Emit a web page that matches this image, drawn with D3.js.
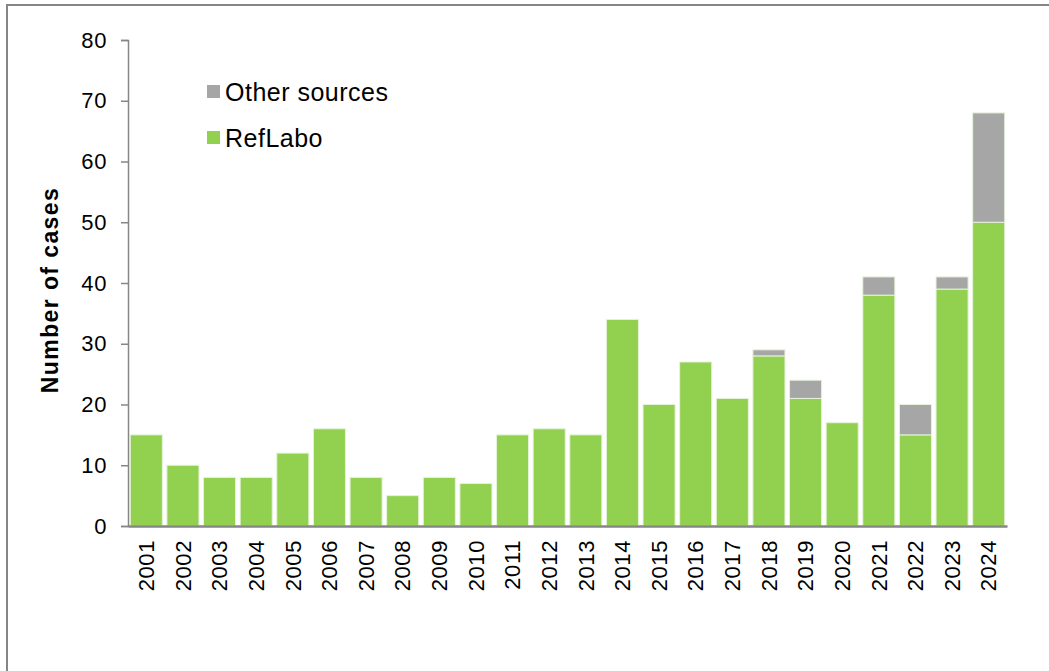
<!DOCTYPE html>
<html>
<head>
<meta charset="utf-8">
<script src="https://cdn.jsdelivr.net/npm/d3@7"></script>
<style>
  body { margin: 0; background: #fff; }
  svg { display: block; font-family: "Liberation Sans", Arial, sans-serif; }
</style>
</head>
<body>
<div id="chart"></div>
<script>
const years = ["2001", "2002", "2003", "2004", "2005", "2006", "2007", "2008", "2009", "2010",
  "2011", "2012", "2013", "2014", "2015", "2016", "2017", "2018", "2019", "2020",
  "2021", "2022", "2023", "2024"];
const refLabo = [15, 10, 8, 8, 12, 16, 8, 5, 8, 7, 15, 16, 15, 34, 20, 27, 21, 28, 21, 17, 38, 15, 39, 50];
const otherSources = [0, 0, 0, 0, 0, 0, 0, 0, 0, 0, 0, 0, 0, 0, 0, 0, 0, 1, 3, 0, 3, 5, 2, 18];
const seriesNames = ["RefLabo", "Other sources"];
const yTicks = [0, 10, 20, 30, 40, 50, 60, 70, 80];

const width = 1049;
const height = 671;
const margin = {top: 40, right: 42, bottom: 145, left: 128};
const colors = {"RefLabo": "#92d050", "Other sources": "#a6a6a6"};

const svg = d3.select("#chart")
  .append("svg")
  .attr("width", width)
  .attr("height", height);

// outer frame (runs off the right and bottom edges)
svg.append("rect")
  .attr("x", 7)
  .attr("y", 5)
  .attr("width", width + 20)
  .attr("height", height + 20)
  .attr("fill", "none")
  .attr("stroke", "#868686")
  .attr("stroke-width", 2);

const rows = years.map((yr, i) => ({year: yr, "RefLabo": refLabo[i], "Other sources": otherSources[i]}));
const stacked = d3.stack().keys(seriesNames)(rows);

const x = d3.scaleBand()
  .domain(years)
  .range([margin.left, width - margin.right])
  .paddingInner(0.125)
  .paddingOuter(0.0625);

const y = d3.scaleLinear()
  .domain([0, 80])
  .range([height - margin.bottom, margin.top]);

svg.append("g")
  .selectAll("g")
  .data(stacked)
  .join("g")
  .attr("fill", d => colors[d.key])
  .selectAll("rect")
  .data(d => d.filter(p => p[1] > p[0]))
  .join("rect")
  .attr("x", d => x(d.data.year))
  .attr("y", d => y(d[1]))
  .attr("width", x.bandwidth())
  .attr("height", d => y(d[0]) - y(d[1]))
  .attr("stroke", "#e6f2da")
  .attr("stroke-width", 1);

const yAxis = g => g
  .attr("transform", `translate(${margin.left},0)`)
  .call(d3.axisLeft(y).tickValues(yTicks).tickSize(7).tickPadding(14).tickSizeOuter(7))
  .call(g => g.selectAll("path, line").attr("stroke", "#868686").attr("stroke-width", 1.5))
  .call(g => g.selectAll("text").attr("font-size", 22).attr("fill", "#000")
    .attr("letter-spacing", 0.6)
    .attr("font-family", "'Liberation Sans', Arial, sans-serif"));

const xAxis = g => g
  .attr("transform", `translate(0,${height - margin.bottom})`)
  .call(d3.axisBottom(x).tickSize(0).tickSizeOuter(0).tickPadding(0))
  .call(g => g.select(".domain").attr("stroke", "#868686").attr("stroke-width", 2.5))
  .call(g => g.selectAll("text")
    .attr("font-size", 22)
    .attr("letter-spacing", 0.6)
    .attr("fill", "#000")
    .attr("font-family", "'Liberation Sans', Arial, sans-serif")
    .attr("transform", "rotate(-90)")
    .attr("text-anchor", "end")
    .attr("x", -14)
    .attr("y", 0)
    .attr("dy", "0.35em"));

svg.append("g").call(xAxis);
svg.append("g").call(yAxis);

svg.append("text")
  .attr("transform", `translate(58,290) rotate(-90)`)
  .attr("text-anchor", "middle")
  .attr("font-size", 23)
  .attr("letter-spacing", 1.4)
  .attr("font-weight", "bold")
  .text("Number of cases");

const legendItems = ["Other sources", "RefLabo"];
const legend = svg.append("g")
  .selectAll("g")
  .data(legendItems)
  .join("g")
  .attr("transform", (d, i) => `translate(207,${85 + i * 46})`);

legend.append("rect")
  .attr("width", 13)
  .attr("height", 13)
  .attr("fill", d => colors[d]);

legend.append("text")
  .attr("x", 18)
  .attr("y", 16)
  .attr("font-size", 25)
  .attr("letter-spacing", 0.5)
  .text(d => d);
</script>
</body>
</html>
